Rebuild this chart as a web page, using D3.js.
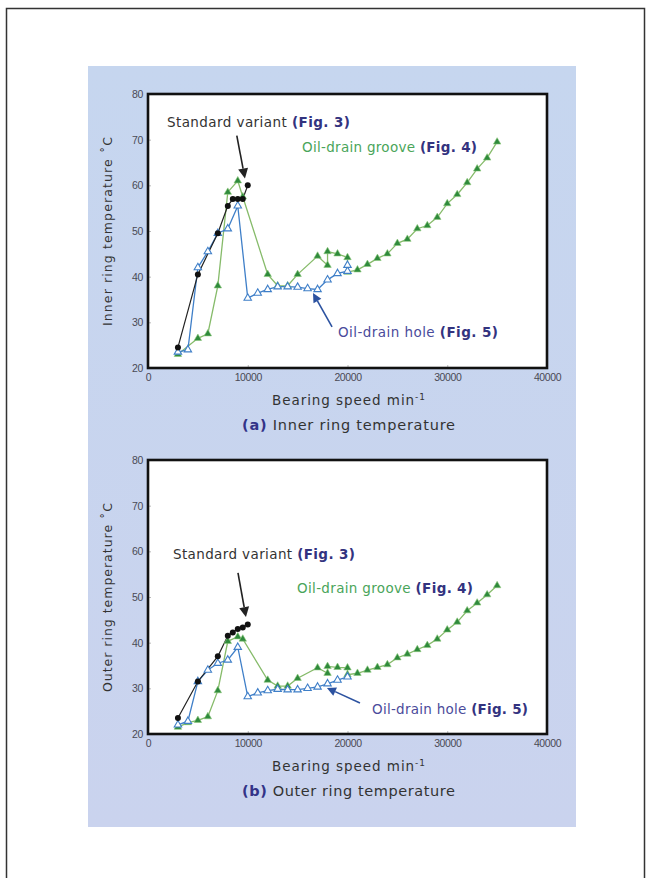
<!DOCTYPE html>
<html><head><meta charset="utf-8">
<script src="https://cdn.jsdelivr.net/npm/d3@7"></script>
<style>
body{margin:0;background:#fff;}
svg{display:block;font-family:"Liberation Sans",Arial,Helvetica,sans-serif;}
.w{font-family:"DejaVu Sans","Liberation Sans",sans-serif;}
</style></head>
<body>
<svg id="c" width="652" height="878"></svg>
<script>
// ---------- DATA ----------
const xTicks = [0, 10000, 20000, 30000, 40000];
const yTicks = [20, 30, 40, 50, 60, 70, 80];

// (a) Inner ring temperature
const innerStandard = [[3000,24.5],[5000,40.5],[7000,49.5],[8000,55.5],[8500,57],[9000,57],[9500,57],[10000,60]];
const innerGroove = [[3000,23],[5000,26.5],[6000,27.5],[7000,38],[8000,58.5],[9000,61],[9500,57.5],[12000,40.5],[13000,38],[14000,38],[15000,40.5],[17000,44.5],[18000,42.5],[18000,45.5],[19000,45],[20000,44.2],[20000,41],[21000,41.5],[22000,42.7],[23000,44],[24000,45],[25000,47.3],[26000,48.2],[27000,50.5],[28000,51.2],[29000,53],[30000,56],[31000,58],[32000,60.6],[33000,63.6],[34000,66],[35000,69.5]];
const innerHole = [[3000,23.5],[4000,24],[5000,42],[6000,45.5],[7000,49.5],[8000,50.5],[9000,55.5],[10000,35.3],[11000,36.4],[12000,37.2],[13000,37.8],[14000,37.8],[15000,37.7],[16000,37.4],[17000,37.2],[18000,39.3],[19000,40.7],[20000,41.2],[20000,42.5]];

// (b) Outer ring temperature
const outerStandard = [[3000,23.5],[5000,31.5],[7000,37],[8000,41.5],[8500,42.2],[9000,43],[9500,43.3],[10000,44]];
const outerGroove = [[3000,21.5],[4000,22.5],[5000,23],[6000,23.8],[7000,29.5],[8000,40.3],[9000,41.3],[9500,40.8],[12000,31.8],[13000,30.5],[14000,30.5],[15000,32.2],[17000,34.5],[18000,33.3],[18000,34.8],[19000,34.6],[20000,34.5],[20000,33],[21000,33.3],[22000,34],[23000,34.6],[24000,35.2],[25000,36.7],[26000,37.5],[27000,38.5],[28000,39.4],[29000,40.8],[30000,42.8],[31000,44.5],[32000,47],[33000,48.7],[34000,50.5],[35000,52.5]];
const outerHole = [[3000,22],[4000,22.8],[5000,31.5],[6000,34],[7000,35.5],[8000,36.2],[9000,39],[10000,28.2],[11000,29],[12000,29.5],[13000,29.8],[14000,29.7],[15000,29.7],[16000,30],[17000,30.3],[18000,31],[19000,31.8],[20000,32.5]];

const charts = [
  {top:94, bottom:368, ytitle:"Inner ring temperature  \u02DAC", letter:"(a)", caption:" Inner ring temperature",
   std:innerStandard, groove:innerGroove, hole:innerHole,
   ann:{std:[1900,72.8,183], stdArrow:[[8900,70.9],[9720,61.5]], groove:[15440,67.2,175], hole:[19050,26.8,160], holeArrow:[[18450,29],[16540,36.4]]}},
  {top:460, bottom:734, ytitle:"Outer ring temperature  \u02DAC", letter:"(b)", caption:" Outer ring temperature",
   std:outerStandard, groove:outerGroove, hole:outerHole,
   ann:{std:[2500,58.3,182], stdArrow:[[9020,55.3],[9820,45.6]], groove:[14940,50.9,176], hole:[22460,24.4,156], holeArrow:[[21250,26.8],[17940,30.1]]}}
];

// ---------- DRAW ----------
const svg = d3.select("#c");
svg.append("rect").attr("x",6.5).attr("y",8.5).attr("width",638).attr("height",890)
  .attr("fill","none").attr("stroke","#333").attr("stroke-width",1.5);
const grad = svg.append("defs").append("linearGradient").attr("id","bg").attr("x1",0).attr("y1",0).attr("x2",0).attr("y2",1);
grad.append("stop").attr("offset","0%").attr("stop-color","#c6d6ef");
grad.append("stop").attr("offset","100%").attr("stop-color","#cad3ee");
svg.append("rect").attr("x",88).attr("y",66).attr("width",488).attr("height",761).attr("fill","url(#bg)");

const X0 = 148, X1 = 547;
const GREEN_LINE = "#86bb6a", GREEN_MK = "#2f8a3c", BLUE = "#3f7fc8";

charts.forEach(c => {
  const x = d3.scaleLinear().domain([0,40000]).range([X0,X1]);
  const y = d3.scaleLinear().domain([20,80]).range([c.bottom,c.top]);
  const g = svg.append("g");

  g.append("rect").attr("x",X0).attr("y",c.top).attr("width",X1-X0).attr("height",c.bottom-c.top).attr("fill","#fff");

  // axes
  const xa = g.append("g").attr("transform",`translate(0,${c.bottom})`)
    .call(d3.axisBottom(x).tickValues(xTicks).tickFormat(d3.format("d")).tickSizeInner(-3).tickSizeOuter(0).tickPadding(6));
  const ya = g.append("g").attr("transform",`translate(${X0},0)`)
    .call(d3.axisLeft(y).tickValues(yTicks).tickSizeInner(-3).tickSizeOuter(0).tickPadding(5));
  [xa,ya].forEach(a=>{
    a.select(".domain").remove();
    a.selectAll("line").attr("stroke","#bbb");
    a.selectAll("text").attr("fill","#4a4a55").attr("font-size",10.5).style("letter-spacing","-0.4px");
  });

  // frame
  g.append("rect").attr("x",X0).attr("y",c.top).attr("width",X1-X0).attr("height",c.bottom-c.top)
    .attr("fill","none").attr("stroke","#111").attr("stroke-width",2.6);

  // titles
  const xt = g.append("text").attr("class","w").attr("x",272).attr("y",c.bottom+37)
    .attr("font-size",13.5).attr("fill","#333").attr("textLength",153).attr("lengthAdjust","spacing");
  xt.append("tspan").text("Bearing speed  min");
  xt.append("tspan").attr("dy",-5).attr("font-size",9).text("-1");
  const cap = g.append("text").attr("class","w").attr("x",242).attr("y",c.bottom+62)
    .attr("font-size",14.5).attr("fill","#333").attr("textLength",213).attr("lengthAdjust","spacing");
  cap.append("tspan").attr("fill","#333388").attr("font-weight","bold").text(c.letter);
  cap.append("tspan").text(c.caption);
  g.append("text").attr("class","w").attr("transform",`translate(112,${(c.top+c.bottom)/2+95}) rotate(-90)`)
    .attr("font-size",12.5).attr("fill","#333").attr("textLength",189).attr("lengthAdjust","spacing").text(c.ytitle);

  const line = d3.line().x(d=>x(d[0])).y(d=>y(d[1]));
  const tri = d3.symbol().type(d3.symbolTriangle).size(24);

  g.append("path").datum(c.groove).attr("d",line).attr("fill","none").attr("stroke",GREEN_LINE).attr("stroke-width",1.3);
  g.append("path").datum(c.hole).attr("d",line).attr("fill","none").attr("stroke",BLUE).attr("stroke-width",1.3);
  g.append("path").datum(c.std).attr("d",line).attr("fill","none").attr("stroke","#222").attr("stroke-width",1.2);

  g.selectAll(".gm").data(c.groove).enter().append("path").attr("d",tri)
    .attr("transform",d=>`translate(${x(d[0])},${y(d[1])})`)
    .attr("fill",GREEN_MK).attr("stroke","#8cc77a").attr("stroke-width",0.6);
  g.selectAll(".hm").data(c.hole).enter().append("path").attr("d",tri)
    .attr("transform",d=>`translate(${x(d[0])},${y(d[1])})`)
    .attr("fill","#fff").attr("stroke",BLUE).attr("stroke-width",1.1);
  g.selectAll(".sm").data(c.std).enter().append("circle")
    .attr("cx",d=>x(d[0])).attr("cy",d=>y(d[1])).attr("r",3).attr("fill","#111");

  // annotations
  const a = c.ann;
  function label(pos, txt, col, fig){
    const t = g.append("text").attr("class","w").attr("x",x(pos[0])).attr("y",y(pos[1])).attr("font-size",13.5).attr("fill",col)
      .attr("textLength",pos[2]).attr("lengthAdjust","spacing");
    t.append("tspan").text(txt);
    t.append("tspan").attr("fill","#33337f").attr("font-weight","bold").text(fig);
  }
  label(a.std,"Standard variant ","#333","(Fig. 3)");
  label(a.groove,"Oil-drain groove ","#4aa55a","(Fig. 4)");
  label(a.hole,"Oil-drain hole ","#4b4b9b","(Fig. 5)");

  function arrow(p, color, hl, hw){
    const x1=x(p[0][0]), y1=y(p[0][1]), x2=x(p[1][0]), y2=y(p[1][1]);
    const ang=Math.atan2(y2-y1,x2-x1);
    const bx=x2-hl*Math.cos(ang), by=y2-hl*Math.sin(ang);
    g.append("line").attr("x1",x1).attr("y1",y1).attr("x2",bx).attr("y2",by).attr("stroke",color).attr("stroke-width",1.6);
    const px=-Math.sin(ang)*hw, py=Math.cos(ang)*hw;
    g.append("path").attr("d",`M${x2},${y2}L${bx+px},${by+py}L${bx-px},${by-py}Z`).attr("fill",color);
  }
  arrow(a.stdArrow,"#222",10,5);
  arrow(a.holeArrow,"#2c52a0",9,4.5);
});
</script>
</body></html>
